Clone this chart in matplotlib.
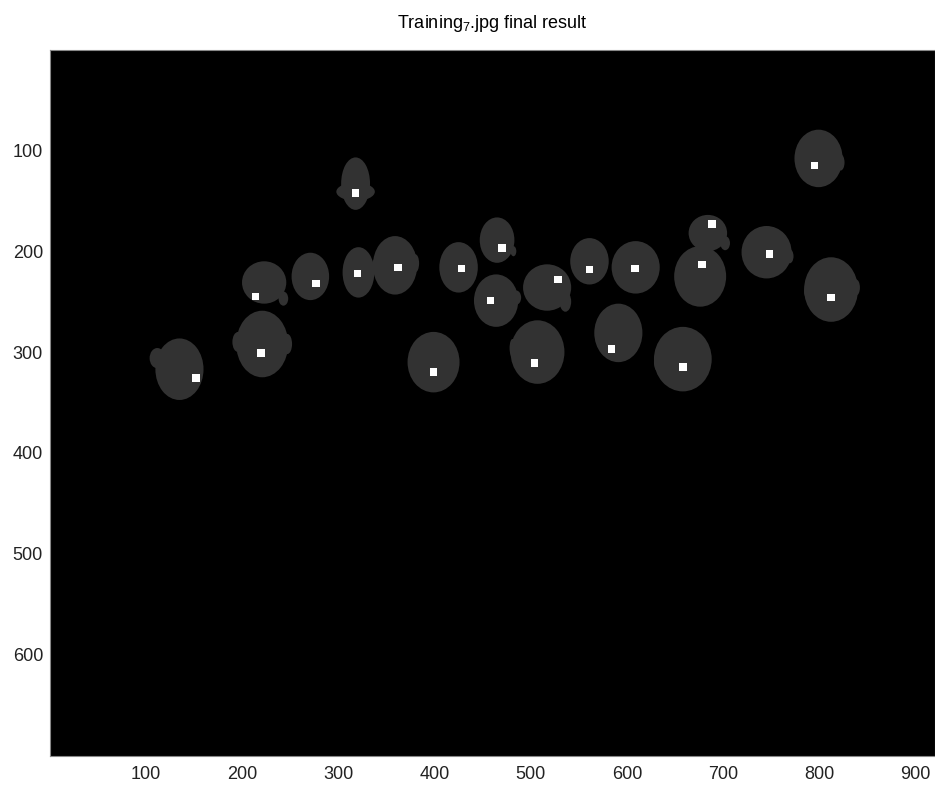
import matplotlib
matplotlib.use("Agg")
import matplotlib.pyplot as plt
from matplotlib.patches import Ellipse

# blob bodies (image coords, pixels)
blob_x = [135, 223, 221, 271, 318, 321, 359, 425, 465, 464, 399,
          517, 507, 561, 609, 591, 684, 676, 658, 745, 799, 812]
blob_y = [317, 231, 292, 225, 133, 221, 214, 216, 189, 249, 310,
          236, 300, 210, 216, 281, 182, 225, 307, 201, 108, 238]
blob_w = [50, 46, 54, 39, 30, 33, 46, 40, 36, 46, 54,
          50, 56, 40, 50, 50, 40, 54, 60, 52, 50, 56]
blob_h = [61, 42, 66, 47, 52, 50, 58, 50, 45, 52, 60,
          46, 63, 46, 52, 58, 36, 60, 64, 52, 57, 64]

# small bumps (ears / shoulders) on the blobs
bump_x = [112, 243, 196, 247, 318, 339, 380, 482, 485, 536, 702, 769, 822, 788, 838, 481, 632]
bump_y = [306, 247, 290, 292, 141, 215, 212, 200, 246, 250, 192, 205, 112, 240, 236, 296, 310]
bump_w = [16, 10, 12, 10, 40, 8, 8, 6, 10, 12, 10, 8, 8, 8, 8, 6, 8]
bump_h = [20, 14, 20, 20, 18, 16, 18, 10, 14, 20, 14, 14, 16, 14, 16, 18, 18]

# detected centre marks
mark_x = [152, 214, 220, 277, 318, 320, 362, 428, 470, 458, 399,
          528, 504, 561, 608, 584, 688, 678, 658, 748, 795, 812]
mark_y = [326, 245, 301, 232, 142, 222, 216, 217, 197, 249, 320,
          228, 311, 218, 217, 297, 173, 213, 315, 203, 115, 246]

x_ticks = [100, 200, 300, 400, 500, 600, 700, 800, 900]
y_ticks = [100, 200, 300, 400, 500, 600]

plt.rcParams["font.family"] = ["Liberation Sans", "DejaVu Sans"]
plt.rcParams["mathtext.fontset"] = "custom"
plt.rcParams["mathtext.rm"] = "Liberation Sans"

fig = plt.figure(figsize=(9.35, 7.89), dpi=100)
ax = fig.add_axes([50 / 935, 1 - 756 / 789, 1 - 50 / 935, 706 / 789])
ax.set_facecolor("black")

gray = "#323232"
for x, y, w, h in zip(blob_x, blob_y, blob_w, blob_h):
    ax.add_patch(Ellipse((x, y), w, h, facecolor=gray, edgecolor="none"))
for x, y, w, h in zip(bump_x, bump_y, bump_w, bump_h):
    ax.add_patch(Ellipse((x, y), w, h, facecolor=gray, edgecolor="none"))

ax.scatter(mark_x, mark_y, marker="s", s=30, color="white", edgecolors="none", zorder=3)

ax.set_xlim(0.5, 920)
ax.set_ylim(700.5, 0.5)
ax.set_xticks(x_ticks)
ax.set_yticks(y_ticks)
ax.tick_params(length=0, labelsize=13, labelcolor="#222222")
ax.tick_params(axis="x", pad=7)
ax.tick_params(axis="y", pad=5)
for s in ax.spines.values():
    s.set_color("#888888")

ax.set_title("Training$_7$.jpg final result", fontsize=13, pad=16)

fig.savefig("out.png", dpi=100)
